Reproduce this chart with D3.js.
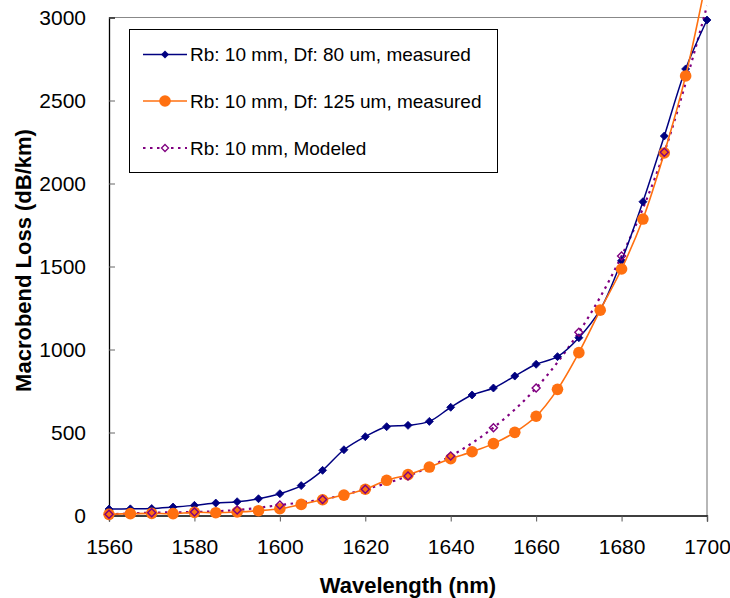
<!DOCTYPE html>
<html>
<head>
<meta charset="utf-8">
<script src="https://cdn.jsdelivr.net/npm/d3@7"></script>
<style>
html,body{margin:0;padding:0;background:#fff;}
svg{display:block;}
text{font-family:"Liberation Sans",Arial,sans-serif;}
</style>
</head>
<body>
<script>
// ---- data ----
const wavelengths5 = [1560,1565,1570,1575,1580,1585,1590,1595,1600,1605,1610,1615,1620,1625,1630,1635,1640,1645,1650,1655,1660,1665,1670,1675,1680,1685,1690,1695,1700];
const lossDf80 = [39,40,42,51,61,75,83,101,131,180,272,396,475,535,543,567,652,726,768,840,911,957,1071,1240,1535,1890,2286,2690,2985];
const lossDf125 = [7,11,13,11,19,17,21,29,41,67,95,123,158,212,246,292,342,384,433,501,598,760,981,1237,1485,1786,2184,2648,3250];
const wavelengths10 = [1560,1570,1580,1590,1600,1610,1620,1630,1640,1650,1660,1670,1680,1690,1700];
const lossModeled = [7,17,21,33,63,97,158,238,358,529,768,1104,1563,2188,3070];
const xTicks = [1560,1580,1600,1620,1640,1660,1680,1700];
const yTicks = [0,500,1000,1500,2000,2500,3000];
const seriesNames = ["Rb: 10 mm, Df: 80 um, measured","Rb: 10 mm, Df: 125 um, measured","Rb: 10 mm, Modeled"];
const xTitle = "Wavelength (nm)";
const yTitle = "Macrobend Loss (dB/km)";

const W = 730, H = 598;
const NAVY = "#000080", ORANGE = "#ff7010", PURPLE = "#800080";
const Y_MAX = 3000;

const svg = d3.select("body").append("svg").attr("width", W).attr("height", H);

const x = d3.scaleLinear().domain([1560,1700]).range([109,707]);
const y = d3.scaleLinear().domain([0,Y_MAX]).range([515.5,17.5]);

// plot frame (top/right grey)
svg.append("path")
  .attr("d", `M${x(1560)},${y(Y_MAX)}H${x(1700)}V${y(0)}`)
  .attr("fill","none").attr("stroke","#888").attr("stroke-width",1.2);

// x axis
const gx = svg.append("g").attr("transform",`translate(0,${y(0)})`)
  .call(d3.axisBottom(x).tickValues(xTicks).tickSize(6).tickPadding(18).tickFormat(d3.format("d")));
gx.select(".domain").attr("stroke","#000").attr("stroke-width",1.3);
gx.selectAll(".tick line").attr("stroke","#555");
gx.selectAll(".tick text").attr("font-size","21px").attr("fill","#000")
  .attr("font-family","Liberation Sans, Arial, sans-serif");

// y axis (ticks inside)
const gy = svg.append("g").attr("transform",`translate(${x(1560)},0)`)
  .call(d3.axisLeft(y).tickValues(yTicks).tickSize(-6).tickPadding(23).tickFormat(d3.format("d")));
gy.select(".domain").attr("stroke","#000").attr("stroke-width",1.3);
gy.selectAll(".tick line").attr("stroke","#666");
gy.selectAll(".tick text").attr("font-size","21px").attr("fill","#000")
  .attr("font-family","Liberation Sans, Arial, sans-serif");

// titles
svg.append("text").attr("x", (x(1560)+x(1700))/2).attr("y", 593)
  .attr("text-anchor","middle").attr("font-size","22px").attr("font-weight","bold").text(xTitle);
svg.append("text").attr("transform",`translate(31,${(y(0)+y(Y_MAX))/2 - 6}) rotate(-90)`)
  .attr("text-anchor","middle").attr("font-size","22px").attr("font-weight","bold").text(yTitle);

const curve = d3.curveCatmullRom.alpha(0.5);
const diamond = s => `M0,${-s}L${s},0L0,${s}L${-s},0Z`;
const inRange = d => d[1] <= Y_MAX;

// modeled (dotted)
const mData = wavelengths10.map((w,i)=>[w,lossModeled[i]]);
svg.append("path").datum(mData)
  .attr("d", d3.line().x(d=>x(d[0])).y(d=>y(d[1])).curve(curve))
  .attr("fill","none").attr("stroke",PURPLE).attr("stroke-width",2.2).attr("stroke-dasharray","2.5,4.5");

// Df 80 series
const bData = wavelengths5.map((w,i)=>[w,lossDf80[i]]);
svg.append("path").datum(bData)
  .attr("d", d3.line().x(d=>x(d[0])).y(d=>y(d[1])).curve(curve))
  .attr("fill","none").attr("stroke",NAVY).attr("stroke-width",1.5);
svg.selectAll(".bm").data(bData.filter(inRange)).enter().append("path")
  .attr("transform",d=>`translate(${x(d[0])},${y(d[1])})`)
  .attr("d",diamond(4)).attr("fill",NAVY).attr("stroke",NAVY).attr("stroke-width",0.8);

// Df 125 series
const oData = wavelengths5.map((w,i)=>[w,lossDf125[i]]);
svg.append("path").datum(oData)
  .attr("d", d3.line().x(d=>x(d[0])).y(d=>y(d[1])).curve(curve))
  .attr("fill","none").attr("stroke",ORANGE).attr("stroke-width",1.6);
svg.selectAll(".om").data(oData.filter(inRange)).enter().append("circle")
  .attr("cx",d=>x(d[0])).attr("cy",d=>y(d[1])).attr("r",5.8).attr("fill",ORANGE);

// modeled markers on top
svg.selectAll(".mm").data(mData.filter(inRange)).enter().append("path")
  .attr("transform",d=>`translate(${x(d[0])},${y(d[1])})`)
  .attr("d",diamond(4)).attr("fill","none").attr("stroke",PURPLE).attr("stroke-width",1.4);

// legend
const lg = svg.append("g");
lg.append("rect").attr("x",129.5).attr("y",29.5).attr("width",368).attr("height",143)
  .attr("fill","#fff").attr("stroke","#000").attr("stroke-width",1);
const rows = [54.5,101,148];
const lx1 = 143, lx2 = 187, lm = 165;
lg.append("line").attr("x1",lx1).attr("x2",lx2).attr("y1",rows[0]).attr("y2",rows[0]).attr("stroke",NAVY).attr("stroke-width",1.5);
lg.append("path").attr("transform",`translate(${lm},${rows[0]})`).attr("d",diamond(4)).attr("fill",NAVY);
lg.append("line").attr("x1",lx1).attr("x2",lx2).attr("y1",rows[1]).attr("y2",rows[1]).attr("stroke",ORANGE).attr("stroke-width",1.6);
lg.append("circle").attr("cx",lm).attr("cy",rows[1]).attr("r",5.8).attr("fill",ORANGE);
lg.append("line").attr("x1",lx1).attr("x2",lx2).attr("y1",rows[2]).attr("y2",rows[2]).attr("stroke",PURPLE).attr("stroke-width",2.2).attr("stroke-dasharray","2.5,4.5");
lg.append("path").attr("transform",`translate(${lm},${rows[2]})`).attr("d",diamond(3.5)).attr("fill","#fff").attr("stroke",PURPLE).attr("stroke-width",1.3);
seriesNames.forEach((n,i)=>{
  lg.append("text").attr("x",190).attr("y",rows[i]+6.8).attr("font-size","19px").attr("fill","#000").text(n);
});
</script>
</body>
</html>
